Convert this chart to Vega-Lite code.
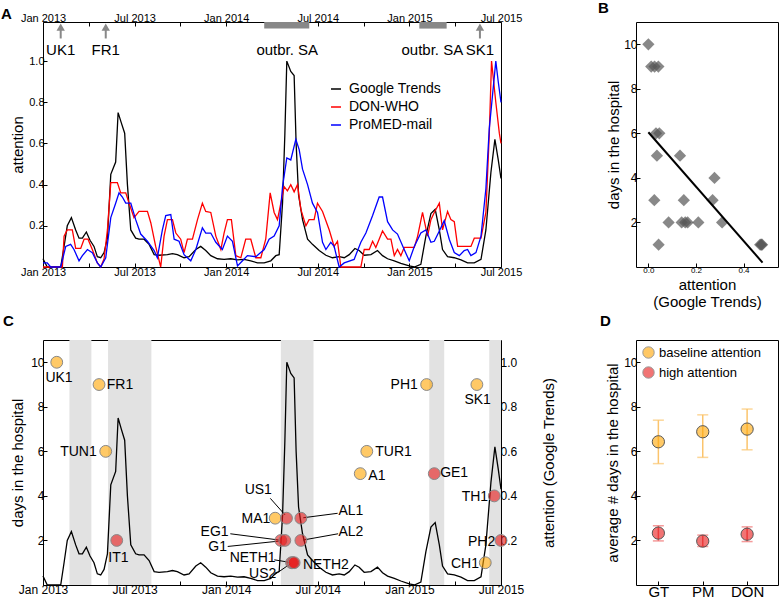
{
"$schema":"https://vega.github.io/schema/vega-lite/v6.json",
"padding":{"left":0,"top":0,"right":0,"bottom":0},
"bounds":"flush",
"columns":2,
"align":"each",
"spacing":{"row":73,"column":135},
"config":{
 "font":"Liberation Sans",
 "view":{"stroke":"black","strokeWidth":1},
 "axis":{"grid":false,"domain":false,"labelColor":"black","titleColor":"black","tickColor":"black","labelFontSize":11,"titleFontSize":15,"titleFontWeight":"normal","tickSize":-4,"labelPadding":3,"titlePadding":4},
 "title":{"fontSize":15,"fontWeight":"bold","anchor":"start","frame":"group"},
 "legend":{"labelColor":"black"}
},
"resolve":{"scale":{"color":"independent","fill":"independent"},"legend":{"color":"independent","fill":"independent"}},
"datasets":{
 "gt":[{"t":0,"value":0.04},{"t":0.28,"value":0},{"t":1.16,"value":0},{"t":1.38,"value":0.1},{"t":1.59,"value":0.2},{"t":1.86,"value":0.24},{"t":2.14,"value":0.18},{"t":2.36,"value":0.14},{"t":2.58,"value":0.14},{"t":2.84,"value":0.17},{"t":3.08,"value":0.13},{"t":3.34,"value":0.1},{"t":3.56,"value":0.05},{"t":3.78,"value":0.045},{"t":4.0,"value":0.07},{"t":4.22,"value":0.14},{"t":4.44,"value":0.45},{"t":4.76,"value":0.51},{"t":4.92,"value":0.75},{"t":5.13,"value":0.7},{"t":5.35,"value":0.65},{"t":5.53,"value":0.4},{"t":5.75,"value":0.18},{"t":6.07,"value":0.14},{"t":6.29,"value":0.135},{"t":6.62,"value":0.135},{"t":6.95,"value":0.11},{"t":7.28,"value":0.06},{"t":7.6,"value":0.057},{"t":8.15,"value":0.06},{"t":8.48,"value":0.065},{"t":8.8,"value":0.06},{"t":9.24,"value":0.045},{"t":9.57,"value":0.05},{"t":10.01,"value":0.085},{"t":10.33,"value":0.1},{"t":10.66,"value":0.08},{"t":10.99,"value":0.055},{"t":11.43,"value":0.04},{"t":11.86,"value":0.037},{"t":12.3,"value":0.04},{"t":12.74,"value":0.035},{"t":13.17,"value":0.037},{"t":13.61,"value":0.03},{"t":14.05,"value":0.02},{"t":14.49,"value":0.02},{"t":14.92,"value":0.03},{"t":15.25,"value":0.055},{"t":15.47,"value":0.06},{"t":15.69,"value":0.31},{"t":15.84,"value":0.64},{"t":15.97,"value":1.0},{"t":16.23,"value":0.95},{"t":16.45,"value":0.93},{"t":16.58,"value":0.6},{"t":16.74,"value":0.35},{"t":17.0,"value":0.23},{"t":17.33,"value":0.135},{"t":17.65,"value":0.11},{"t":18.09,"value":0.08},{"t":18.53,"value":0.057},{"t":18.96,"value":0.045},{"t":19.4,"value":0.05},{"t":19.73,"value":0.045},{"t":20.06,"value":0.06},{"t":20.43,"value":0.09},{"t":20.71,"value":0.08},{"t":21.04,"value":0.057},{"t":21.48,"value":0.06},{"t":21.91,"value":0.08},{"t":22.24,"value":0.055},{"t":22.57,"value":0.04},{"t":23.01,"value":0.03},{"t":23.44,"value":0.018},{"t":23.99,"value":0.005},{"t":24.32,"value":0},{"t":24.75,"value":0.013},{"t":25.08,"value":0.15},{"t":25.41,"value":0.26},{"t":25.69,"value":0.28},{"t":25.96,"value":0.18},{"t":26.17,"value":0.085},{"t":26.5,"value":0.05},{"t":26.94,"value":0.045},{"t":27.38,"value":0.035},{"t":27.81,"value":0.02},{"t":28.25,"value":0.02},{"t":28.69,"value":0.037},{"t":29.01,"value":0.18},{"t":29.34,"value":0.46},{"t":29.6,"value":0.62},{"t":29.82,"value":0.52},{"t":30,"value":0.43}],
 "don":[{"t":0,"value":0},{"t":1.27,"value":0},{"t":1.38,"value":0.15},{"t":1.59,"value":0.18},{"t":1.92,"value":0.18},{"t":2.14,"value":0.09},{"t":2.47,"value":0.09},{"t":2.69,"value":0.135},{"t":2.95,"value":0.135},{"t":3.23,"value":0.085},{"t":3.56,"value":0.02},{"t":3.78,"value":0},{"t":4.0,"value":0.04},{"t":4.22,"value":0.18},{"t":4.44,"value":0.41},{"t":4.87,"value":0.41},{"t":5.09,"value":0.36},{"t":5.42,"value":0.36},{"t":5.64,"value":0.31},{"t":5.96,"value":0.24},{"t":6.29,"value":0.27},{"t":6.84,"value":0.27},{"t":7.06,"value":0.215},{"t":7.38,"value":0.1},{"t":7.71,"value":0},{"t":7.93,"value":0.15},{"t":8.15,"value":0.23},{"t":8.48,"value":0.23},{"t":8.7,"value":0.165},{"t":9.02,"value":0.135},{"t":9.24,"value":0.07},{"t":9.46,"value":0.135},{"t":9.79,"value":0.135},{"t":10.12,"value":0.23},{"t":10.44,"value":0.31},{"t":10.66,"value":0.27},{"t":10.99,"value":0.265},{"t":11.32,"value":0.15},{"t":11.65,"value":0.085},{"t":11.86,"value":0.165},{"t":12.08,"value":0.23},{"t":12.34,"value":0.23},{"t":12.63,"value":0.055},{"t":12.96,"value":0.045},{"t":13.28,"value":0.135},{"t":13.61,"value":0.135},{"t":13.94,"value":0.045},{"t":14.27,"value":0.045},{"t":14.59,"value":0.135},{"t":14.88,"value":0.36},{"t":15.14,"value":0.265},{"t":15.36,"value":0.23},{"t":15.58,"value":0.31},{"t":15.8,"value":0.39},{"t":16.01,"value":0.37},{"t":16.23,"value":0.4},{"t":16.45,"value":0.365},{"t":16.67,"value":0.4},{"t":16.89,"value":0.28},{"t":17.22,"value":0.2},{"t":17.43,"value":0.23},{"t":17.76,"value":0.23},{"t":17.98,"value":0.31},{"t":18.31,"value":0.27},{"t":18.75,"value":0.18},{"t":19.07,"value":0.1},{"t":19.29,"value":0.125},{"t":19.51,"value":0},{"t":20.82,"value":0},{"t":21.04,"value":0.085},{"t":21.37,"value":0.085},{"t":21.59,"value":0.125},{"t":21.8,"value":0.095},{"t":22.24,"value":0.175},{"t":22.57,"value":0.135},{"t":22.79,"value":0.135},{"t":23.01,"value":0.055},{"t":23.22,"value":0.085},{"t":23.44,"value":0.055},{"t":23.66,"value":0.095},{"t":24.32,"value":0.095},{"t":24.54,"value":0.15},{"t":24.86,"value":0.265},{"t":25.19,"value":0.15},{"t":25.41,"value":0.23},{"t":25.63,"value":0.265},{"t":25.96,"value":0.31},{"t":26.17,"value":0.18},{"t":26.5,"value":0.27},{"t":26.72,"value":0.23},{"t":26.94,"value":0.22},{"t":27.16,"value":0.1},{"t":28.03,"value":0.1},{"t":28.25,"value":0.14},{"t":28.69,"value":0.14},{"t":29.01,"value":0.265},{"t":29.23,"value":0.64},{"t":29.38,"value":1.0},{"t":29.66,"value":0.8},{"t":29.89,"value":0.65},{"t":30,"value":0.6}],
 "pm":[{"t":0,"value":0.02},{"t":0.28,"value":0.02},{"t":0.5,"value":0},{"t":1.16,"value":0},{"t":1.49,"value":0.1},{"t":1.81,"value":0.11},{"t":2.03,"value":0.085},{"t":2.36,"value":0.03},{"t":2.58,"value":0.055},{"t":2.91,"value":0.085},{"t":3.23,"value":0.07},{"t":3.56,"value":0.02},{"t":3.78,"value":0},{"t":4.11,"value":0.045},{"t":4.44,"value":0.24},{"t":4.76,"value":0.31},{"t":4.98,"value":0.36},{"t":5.2,"value":0.34},{"t":5.42,"value":0.31},{"t":5.75,"value":0.31},{"t":6.07,"value":0.23},{"t":6.4,"value":0.16},{"t":6.84,"value":0.125},{"t":7.28,"value":0.08},{"t":7.49,"value":0.045},{"t":7.82,"value":0.18},{"t":8.04,"value":0.25},{"t":8.37,"value":0.255},{"t":8.59,"value":0.135},{"t":8.91,"value":0.125},{"t":9.24,"value":0.06},{"t":9.68,"value":0.03},{"t":10.01,"value":0.085},{"t":10.44,"value":0.19},{"t":10.66,"value":0.165},{"t":10.99,"value":0.165},{"t":11.32,"value":0.12},{"t":11.75,"value":0.085},{"t":12.08,"value":0.15},{"t":12.41,"value":0.125},{"t":12.74,"value":0.005},{"t":13.07,"value":0.03},{"t":13.39,"value":0.055},{"t":13.94,"value":0.05},{"t":14.49,"value":0.085},{"t":14.81,"value":0.135},{"t":15.14,"value":0.15},{"t":15.47,"value":0.2},{"t":15.69,"value":0.39},{"t":15.97,"value":0.53},{"t":16.23,"value":0.52},{"t":16.56,"value":0.62},{"t":16.78,"value":0.57},{"t":17.0,"value":0.475},{"t":17.33,"value":0.4},{"t":17.65,"value":0.31},{"t":17.98,"value":0.265},{"t":18.31,"value":0.12},{"t":18.53,"value":0.085},{"t":18.85,"value":0.12},{"t":19.07,"value":0.1},{"t":19.4,"value":0},{"t":19.73,"value":0.02},{"t":20.38,"value":0.037},{"t":20.82,"value":0.12},{"t":21.15,"value":0.165},{"t":21.59,"value":0.25},{"t":22.02,"value":0.34},{"t":22.24,"value":0.34},{"t":22.57,"value":0.22},{"t":22.9,"value":0.18},{"t":23.22,"value":0.16},{"t":23.66,"value":0.085},{"t":23.99,"value":0.03},{"t":24.32,"value":0.1},{"t":24.75,"value":0.165},{"t":25.08,"value":0.18},{"t":25.41,"value":0.12},{"t":25.63,"value":0.125},{"t":25.96,"value":0.175},{"t":26.28,"value":0.225},{"t":26.61,"value":0.135},{"t":26.94,"value":0.07},{"t":27.27,"value":0.055},{"t":27.59,"value":0.08},{"t":27.81,"value":0.085},{"t":28.03,"value":0.055},{"t":28.36,"value":0.07},{"t":28.69,"value":0.15},{"t":29.01,"value":0.38},{"t":29.23,"value":0.67},{"t":29.66,"value":1.0},{"t":29.82,"value":0.9},{"t":30,"value":0.8}],
 "eventsA":[{"name":"UK1","t":1.16},{"name":"FR1","t":4.11},{"name":"SK1","t":28.62}],
 "outbreaks":[{"start":14.49,"end":17.44,"mid":16.0,"label":"outbr. SA"},{"start":24.65,"end":26.44,"mid":25.5,"label":"outbr. SA"}],
 "scatterB":[{"attention":0.0,"days":10},{"attention":0.012,"days":9},{"attention":0.026,"days":9},{"attention":0.042,"days":9},{"attention":0.032,"days":6},{"attention":0.046,"days":6},{"attention":0.036,"days":5},{"attention":0.133,"days":5},{"attention":0.025,"days":3},{"attention":0.149,"days":3},{"attention":0.27,"days":3},{"attention":0.278,"days":4},{"attention":0.043,"days":1},{"attention":0.47,"days":1},{"attention":0.475,"days":1},{"attention":0.478,"days":1},{"attention":0.085,"days":2},{"attention":0.14,"days":2},{"attention":0.155,"days":2},{"attention":0.165,"days":2},{"attention":0.21,"days":2},{"attention":0.31,"days":2}],
 "fitB":[{"attention":0.0,"days":6.05},{"attention":0.48,"days":0.2}],
 "bands":[{"start":1.73,"end":3.17},{"start":4.26,"end":7.1},{"start":15.58,"end":17.72},{"start":25.3,"end":26.28},{"start":29.23,"end":30}],
 "cases":[
  {"case":"UK1","t":0.9,"days":10,"group":"baseline attention","lt":1.05,"ld":9.3},
  {"case":"FR1","t":3.67,"days":9,"group":"baseline attention","lt":5.04,"ld":9.0},
  {"case":"TUN1","t":4.11,"days":6,"group":"baseline attention","lt":2.32,"ld":5.95},
  {"case":"IT1","t":4.83,"days":2,"group":"high attention","lt":4.94,"ld":1.21},
  {"case":"MA1","t":15.21,"days":3,"group":"baseline attention","lt":13.95,"ld":2.97},
  {"case":"US1","t":15.95,"days":3,"group":"high attention","lt":14.1,"ld":4.27},
  {"case":"AL1","t":16.89,"days":3,"group":"high attention","lt":20.17,"ld":3.33},
  {"case":"EG1","t":15.58,"days":2,"group":"high attention","lt":11.24,"ld":2.4},
  {"case":"G1","t":15.84,"days":2,"group":"high attention","lt":11.44,"ld":1.7},
  {"case":"AL2","t":16.89,"days":2,"group":"high attention","lt":20.17,"ld":2.36},
  {"case":"NETH1","t":16.28,"days":1,"group":"high attention","lt":13.73,"ld":1.21},
  {"case":"US2","t":16.36,"days":1,"group":"high attention","lt":14.39,"ld":0.51},
  {"case":"NETH2","t":16.45,"days":1,"group":"high attention","lt":18.53,"ld":0.91},
  {"case":"A1","t":20.78,"days":5,"group":"baseline attention","lt":21.87,"ld":4.91},
  {"case":"TUR1","t":21.21,"days":6,"group":"baseline attention","lt":22.96,"ld":5.95},
  {"case":"PH1","t":25.13,"days":9,"group":"baseline attention","lt":23.66,"ld":9.0},
  {"case":"GE1","t":25.63,"days":5,"group":"high attention","lt":26.93,"ld":5.01},
  {"case":"SK1","t":28.42,"days":9,"group":"baseline attention","lt":28.47,"ld":8.29},
  {"case":"TH1","t":29.56,"days":4,"group":"high attention","lt":28.29,"ld":3.97},
  {"case":"PH2","t":30.0,"days":2,"group":"high attention","lt":28.73,"ld":1.91},
  {"case":"CH1","t":28.97,"days":1,"group":"baseline attention","lt":27.64,"ld":0.95}],
 "leaders":[
  {"case":"US1","x1":14.89,"y1":3.89,"x2":15.85,"y2":3.15},
  {"case":"AL1","x1":19.3,"y1":3.22,"x2":17.05,"y2":3.02},
  {"case":"EG1","x1":12.27,"y1":2.3,"x2":15.45,"y2":2.02},
  {"case":"G1","x1":12.1,"y1":1.73,"x2":15.45,"y2":1.97},
  {"case":"AL2","x1":19.33,"y1":2.3,"x2":17.05,"y2":2.02},
  {"case":"NETH1","x1":15.15,"y1":1.13,"x2":16.15,"y2":1.02},
  {"case":"US2","x1":15.14,"y1":0.45,"x2":16.2,"y2":0.95}],
 "summaryD":[
  {"source":"GT","group":"baseline attention","mean":6.43,"lo":5.45,"hi":7.4},
  {"source":"PM","group":"baseline attention","mean":6.88,"lo":5.73,"hi":7.64},
  {"source":"DON","group":"baseline attention","mean":7.0,"lo":6.07,"hi":7.9},
  {"source":"GT","group":"high attention","mean":2.33,"lo":1.98,"hi":2.66},
  {"source":"PM","group":"high attention","mean":1.97,"lo":1.73,"hi":2.24},
  {"source":"DON","group":"high attention","mean":2.28,"lo":1.95,"hi":2.61}]
},
"concat":[
 {
  "width":458,"height":245,
  "title":{"text":"A","dx":-42,"offset":-10},
  "layer":[
   {"data":{"name":"gt"},"mark":{"type":"line","strokeWidth":1.3},
    "encoding":{
     "x":{"field":"t","type":"quantitative","scale":{"domain":[0,30],"nice":false,"zero":false},"axis":{"orient":"bottom","title":null,"values":[0,3,6,9,12,15,18,21,24,27,30],"labelExpr":"datum.value % 6 == 0 ? ['Jan 2013','Jul 2013','Jan 2014','Jul 2014','Jan 2015','Jul 2015'][datum.value/6] : ''","labelOverlap":false,"labelFlush":false,"labelBound":false}},
     "y":{"field":"value","type":"quantitative","scale":{"domain":[0,1.19],"nice":false},"axis":{"values":[0.2,0.4,0.6,0.8,1.0],"format":".1f","title":"attention","titlePadding":3}},
     "color":{"datum":"Google Trends","scale":{"domain":["Google Trends","DON-WHO","ProMED-mail"],"range":["black","red","blue"]},"legend":{"orient":"none","legendX":286,"legendY":60,"title":null,"symbolType":"stroke","symbolStrokeWidth":1.5,"symbolSize":100,"labelFontSize":14,"rowPadding":4,"labelOffset":6}}
    }},
   {"data":{"name":"don"},"mark":{"type":"line","strokeWidth":1.3},
    "encoding":{"x":{"field":"t","type":"quantitative","axis":null},"y":{"field":"value","type":"quantitative"},"color":{"datum":"DON-WHO"}}},
   {"data":{"name":"pm"},"mark":{"type":"line","strokeWidth":1.3},
    "encoding":{"x":{"field":"t","type":"quantitative","axis":null},"y":{"field":"value","type":"quantitative"},"color":{"datum":"ProMED-mail"}}},
   {"data":{"name":"outbreaks"},"mark":{"type":"rect","color":"#888"},
    "encoding":{"x":{"field":"start","type":"quantitative","axis":{"orient":"top","title":null,"values":[0,3,6,9,12,15,18,21,24,27,30],"labelExpr":"datum.value % 6 == 0 ? ['Jan 2013','Jul 2013','Jan 2014','Jul 2014','Jan 2015','Jul 2015'][datum.value/6] : ''","labelOverlap":false,"labelFlush":false,"labelBound":false}},"x2":{"field":"end"},"y":{"datum":1.158},"y2":{"datum":1.19}}},
   {"data":{"name":"outbreaks"},"mark":{"type":"text","fontSize":15},
    "encoding":{"x":{"field":"mid","type":"quantitative","axis":null},"y":{"datum":1.055},"text":{"field":"label"}}},
   {"data":{"name":"eventsA"},"mark":{"type":"rule","color":"#888","strokeWidth":2},
    "encoding":{"x":{"field":"t","type":"quantitative","axis":null},"y":{"datum":1.11},"y2":{"datum":1.16}}},
   {"data":{"name":"eventsA"},"mark":{"type":"point","shape":"triangle-up","filled":true,"color":"#888","opacity":1,"size":70},
    "encoding":{"x":{"field":"t","type":"quantitative","axis":null},"y":{"datum":1.165}}},
   {"data":{"name":"eventsA"},"mark":{"type":"text","fontSize":15},
    "encoding":{"x":{"field":"t","type":"quantitative","axis":null},"y":{"datum":1.055},"text":{"field":"name"}}}
  ],
  "resolve":{"axis":{"x":"independent"}}
 },
 {
  "width":142,"height":245,
  "title":{"text":"B","dx":-38,"offset":6},
  "layer":[
   {"data":{"name":"scatterB"},"mark":{"type":"point","shape":"diamond","filled":true,"color":"#555","opacity":0.7,"size":150},
    "encoding":{
     "x":{"field":"attention","type":"quantitative","scale":{"domain":[-0.052,0.545],"nice":false,"zero":false},"axis":{"values":[0,0.1,0.2,0.3,0.4,0.5],"format":".1f","labelFontSize":8,"title":["attention","(Google Trends)"],"titlePadding":3}},
     "y":{"field":"days","type":"quantitative","scale":{"domain":[0,11],"nice":false},"axis":{"values":[2,4,6,8,10],"labelFontSize":12,"title":"days in the hospital","titlePadding":2}}}},
   {"data":{"name":"fitB"},"mark":{"type":"line","color":"black","strokeWidth":2},
    "encoding":{"x":{"field":"attention","type":"quantitative"},"y":{"field":"days","type":"quantitative"}}}
  ]
 },
 {
  "width":458,"height":245,
  "title":{"text":"C","dx":-40,"offset":11},
  "layer":[
   {"data":{"name":"bands"},"mark":{"type":"rect","color":"#e2e2e2"},
    "encoding":{"x":{"field":"start","type":"quantitative","scale":{"domain":[0,30],"nice":false,"zero":false},"axis":{"title":null,"values":[0,3,6,9,12,15,18,21,24,27,30],"labelFontSize":12,"labelExpr":"datum.value % 6 == 0 ? ['Jan 2013','Jul 2013','Jan 2014','Jul 2014','Jan 2015','Jul 2015'][datum.value/6] : ''","labelOverlap":false,"labelFlush":false,"labelBound":false}},"x2":{"field":"end"}}},
   {"data":{"name":"gt"},"mark":{"type":"line","color":"black","strokeWidth":1.3},
    "encoding":{"x":{"field":"t","type":"quantitative","axis":{"title":null}},"y":{"field":"value","type":"quantitative","scale":{"domain":[0,1.1],"nice":false},"axis":{"orient":"right","values":[0.2,0.4,0.6,0.8,1.0],"format":".1f","labelFontSize":12,"title":"attention (Google Trends)","titleAngle":-90,"titlePadding":40}}}},
   {"layer":[
    {"data":{"name":"leaders"},"mark":{"type":"rule","color":"black","strokeWidth":1},
     "encoding":{"x":{"field":"x1","type":"quantitative","axis":{"title":null}},"x2":{"field":"x2"},"y":{"field":"y1","type":"quantitative","scale":{"domain":[0,11],"nice":false},"axis":{"values":[2,4,6,8,10],"labelFontSize":12,"title":"days in the hospital","titlePadding":5}},"y2":{"field":"y2"}}},
    {"data":{"name":"cases"},"transform":[{"filter":"datum.group == 'baseline attention'"}],"mark":{"type":"circle","size":140,"fill":"#ffa500","stroke":"#888","strokeWidth":1,"fillOpacity":0.6,"opacity":1},
     "encoding":{"x":{"field":"t","type":"quantitative","axis":{"title":null}},"y":{"field":"days","type":"quantitative","axis":{"title":"days in the hospital"}}}},
    {"data":{"name":"cases"},"transform":[{"filter":"datum.group == 'high attention'"}],"mark":{"type":"circle","size":140,"fill":"#e81818","stroke":"#888","strokeWidth":1,"fillOpacity":0.6,"opacity":1},
     "encoding":{"x":{"field":"t","type":"quantitative","axis":{"title":null}},"y":{"field":"days","type":"quantitative","axis":{"title":"days in the hospital"}}}},
    {"data":{"name":"cases"},"mark":{"type":"text","fontSize":14},
     "encoding":{"x":{"field":"lt","type":"quantitative","axis":{"title":null}},"y":{"field":"ld","type":"quantitative","axis":{"title":"days in the hospital"}},"text":{"field":"case"}}}
   ]}
  ],
  "resolve":{"scale":{"y":"independent"}}
 },
 {
  "width":142,"height":245,
  "title":{"text":"D","dx":-36,"offset":11},
  "layer":[
   {"data":{"name":"summaryD"},"transform":[{"filter":"datum.group == 'baseline attention'"}],"mark":{"type":"errorbar","ticks":{"size":11},"color":"#fbc46c","thickness":1.5},
    "encoding":{
     "x":{"field":"source","type":"nominal","sort":["GT","PM","DON"],"scale":{"type":"point","padding":0.6,"align":0.42},"axis":{"title":null,"labelAngle":0,"labelFontSize":15,"labelPadding":3}},
     "y":{"field":"lo","type":"quantitative","scale":{"domain":[0,11],"nice":false},"axis":{"values":[2,4,6,8,10],"labelFontSize":12,"title":"average # days in the hospital","titlePadding":3}},
     "y2":{"field":"hi"}}},
   {"data":{"name":"summaryD"},"transform":[{"filter":"datum.group == 'high attention'"}],"mark":{"type":"errorbar","ticks":{"size":11},"color":"#f07070","thickness":1.5},
    "encoding":{
     "x":{"field":"source","type":"nominal","sort":["GT","PM","DON"]},
     "y":{"field":"lo","type":"quantitative","axis":{"title":"average # days in the hospital"}},
     "y2":{"field":"hi"}}},
   {"data":{"name":"summaryD"},"mark":{"type":"circle","size":150,"stroke":"#555","strokeWidth":1,"fillOpacity":0.6,"opacity":1},
    "encoding":{"x":{"field":"source","type":"nominal","sort":["GT","PM","DON"]},"y":{"field":"mean","type":"quantitative","axis":{"title":"average # days in the hospital"}},
     "fill":{"field":"group","type":"nominal","scale":{"domain":["baseline attention","high attention"],"range":["#ffa500","#e81818"]},"legend":{"orient":"none","legendX":6,"legendY":6,"title":null,"symbolType":"circle","symbolSize":130,"labelFontSize":13,"symbolStrokeColor":"#555","symbolStrokeWidth":1,"symbolOpacity":0.6,"rowPadding":3}}}}
  ]
 }
]
}
